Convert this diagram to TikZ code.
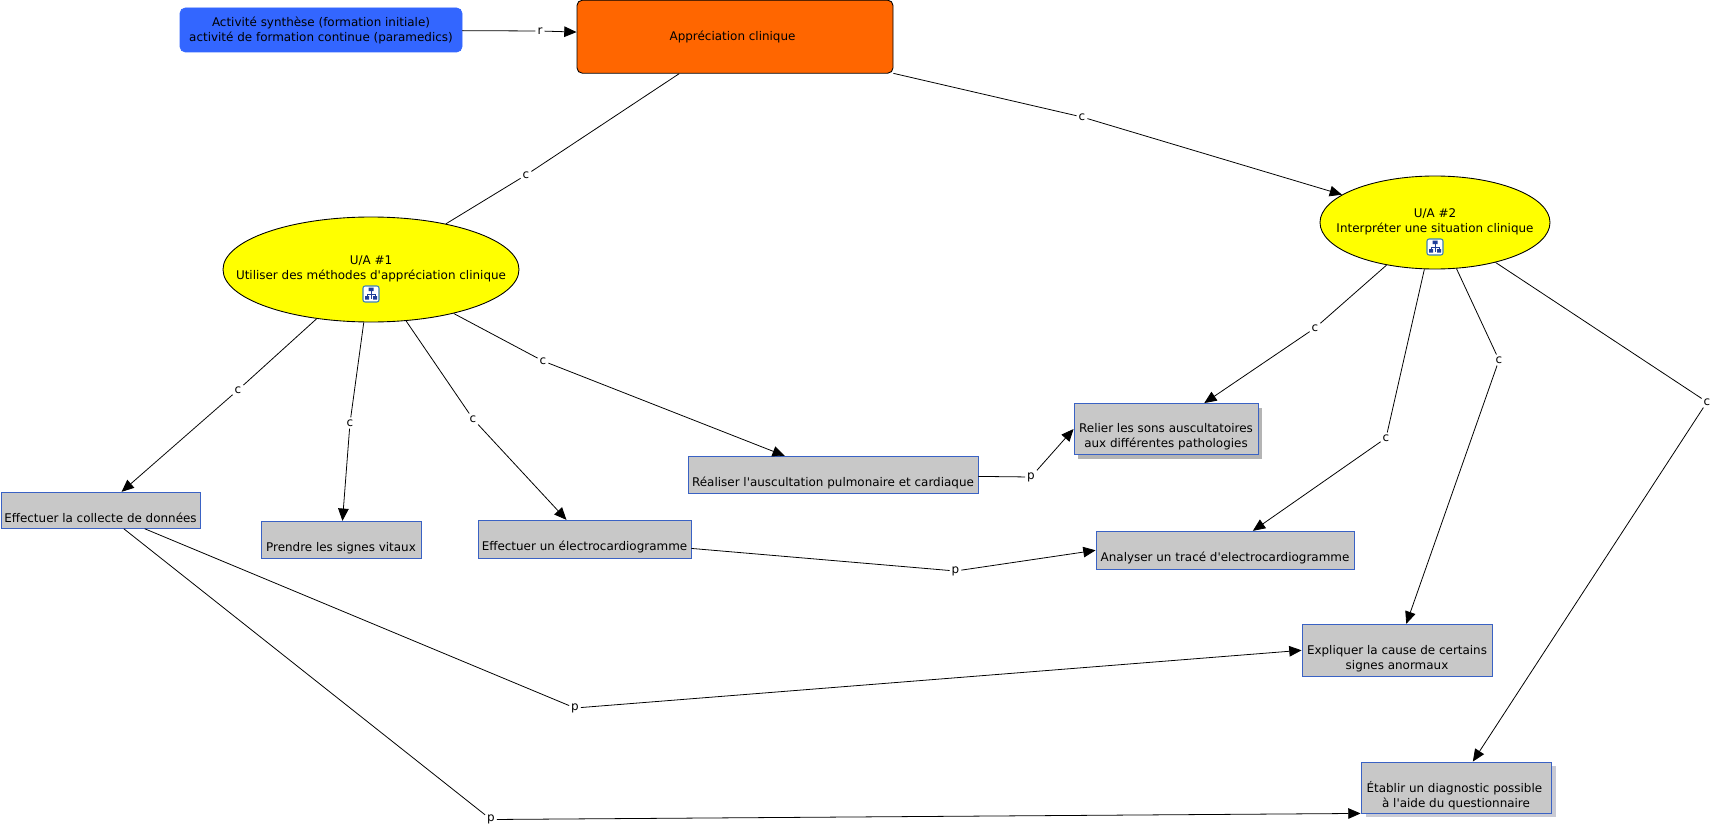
\documentclass[tikz,border=0pt]{standalone}
\usepackage{fontspec}
\setmainfont{DejaVu Sans}
\usetikzlibrary{arrows.meta,shapes.geometric}
\definecolor{actblue}{HTML}{3366FF}
\definecolor{rootorange}{HTML}{FF6600}
\definecolor{unityellow}{HTML}{FFFF00}
\definecolor{taskgray}{HTML}{C8C8C8}
\definecolor{taskedge}{HTML}{3A62C4}
\definecolor{shadegray}{HTML}{B4B4B4}
\definecolor{shadeblue}{HTML}{C9CAD4}
\definecolor{iconedge}{HTML}{3C7FB8}
\definecolor{icontree}{HTML}{1F3F9A}
\tikzset{
    every node/.style={font=\fontsize{6.8}{8.5}\selectfont, text=black, align=center},
    activity/.style={draw=actblue, fill=actblue, rounded corners=3pt, inner sep=0pt},
    root/.style={draw=black, line width=0.5pt, fill=rootorange, rounded corners=3pt, inner sep=0pt},
    unit/.style={ellipse, draw=black, line width=0.5pt, fill=unityellow, inner sep=0pt},
    task/.style={draw=taskedge, line width=0.5pt, fill=taskgray, inner sep=0pt},
    linklabel/.style={inner sep=1pt, fill=white},
    link/.style={line width=0.45pt},
    linkarrow/.style={line width=0.45pt, -{Triangle[length=7pt, width=6pt]}},
}
\newcommand{\px}{0.02cm}
\newcommand{\apos}{\textquotesingle}
\begin{document}
\begin{tikzpicture}[x=0.02cm, y=-0.02cm]
    \useasboundingbox (0,0) rectangle (1714,828);

    \node[activity, minimum width=282*\px, minimum height=44*\px] (synth) at (321,30) {Activité synthèse (formation initiale)\\activité de formation continue (paramedics)};
    \node[root, minimum width=316*\px, minimum height=73*\px] (clin) at (735,36.7) {Appréciation clinique\hspace*{2.8pt}};

    \node[unit, minimum width=296*\px, minimum height=105*\px] (ua1) at (371,269.5) {};
    \node (ua1text) at (371,268.5) {U/A \#1\\Utiliser des méthodes d\apos appréciation clinique};
    \node[unit, minimum width=230*\px, minimum height=93*\px] (ua2) at (1435,222.5) {};
    \node (ua2text) at (1435,221.5) {U/A \#2\\Interpréter une situation clinique};

    % small map icons
    \foreach \icon/\x/\y in {icona/371/294, iconb/1435/247} {
        \node[draw=iconedge, fill=white, rounded corners=1.2pt, line width=0.6pt, minimum size=16*\px, inner sep=0pt] (\icon) at (\x,\y) {};
        \draw[icontree, line width=0.5pt] (\x,\y-4) -- (\x,\y+5) (\x-4,\y+3) -- (\x-4,\y) -- (\x+4,\y) -- (\x+4,\y+3);
        \fill[icontree] (\x-2.5,\y-6.5) rectangle (\x+2.5,\y-3) (\x-6,\y+2) rectangle (\x-2,\y+5.5) (\x+2,\y+2) rectangle (\x+6,\y+5.5);
    }

    % boxes with a shadow first
    \fill[shadegray] (1078,407.5) rectangle (1262,458.5);
    \fill[shadeblue] (1366,766) rectangle (1556,817);

    \node[task, minimum width=199*\px, minimum height=36*\px] (collecte) at (100.5,510.3) {\strut\\Effectuer la collecte de données};
    \node[task, minimum width=160*\px, minimum height=37*\px] (signes) at (341,539.8) {\strut\\Prendre les signes vitaux};
    \node[task, minimum width=213*\px, minimum height=38*\px] (ecg) at (584.5,539.3) {\strut\\Effectuer un électrocardiogramme};
    \node[task, minimum width=290*\px, minimum height=37*\px] (auscult) at (833,474.8) {\strut\\Réaliser l\apos auscultation pulmonaire et cardiaque};
    \node[task, minimum width=184*\px, minimum height=51*\px] (sons) at (1166,429) {\strut\\Relier les sons auscultatoires\\aux différentes pathologies};
    \node[task, minimum width=258*\px, minimum height=38*\px] (trace) at (1225,550.3) {\strut\\Analyser un tracé d\apos electrocardiogramme};
    \node[task, minimum width=190*\px, minimum height=52*\px] (cause) at (1397,650.3) {\strut\\Expliquer la cause de certains\\signes anormaux};
    \node[task, minimum width=190*\px, minimum height=51*\px] (diag) at (1456,787.5) {\strut\\Établir un diagnostic possible\hphantom{i}\\à l\apos aide du questionnaire};

    \foreach \name/\x/\y/\word in {lr/540/31/r, la/526/175/c, lb/1082/117/c, lc/238/390/c, ld/350/423/c, le/473/419/c, lf/543/361/c,
        lg/1315/328/c, lh/1386/438/c, li/1499/360/c, lj/1707/402/c, lk/1031/477/p, ll/955.5/571/p, lm/575/708/p, ln/491/819.5/p}
        \node[linklabel] (\name) at (\x,\y) {\word};

    \foreach \from/\via/\to in {synth/lr/clin, clin/lb/ua2, ua1/lc/collecte, ua1/ld/signes, ua1/le/ecg, ua1/lf/auscult,
        ua2/lg/sons, ua2/lh/trace, ua2/li/cause, ua2/lj/diag, auscult/lk/sons.west, ecg/ll/trace.west, collecte/lm/cause.west, collecte/ln/diag.south west} {
        \draw[link] (\from) -- (\via);
        \draw[linkarrow] (\via) -- (\to);
    }
    \draw[link] (clin) -- (la) -- (ua1);
\end{tikzpicture}
\end{document}
